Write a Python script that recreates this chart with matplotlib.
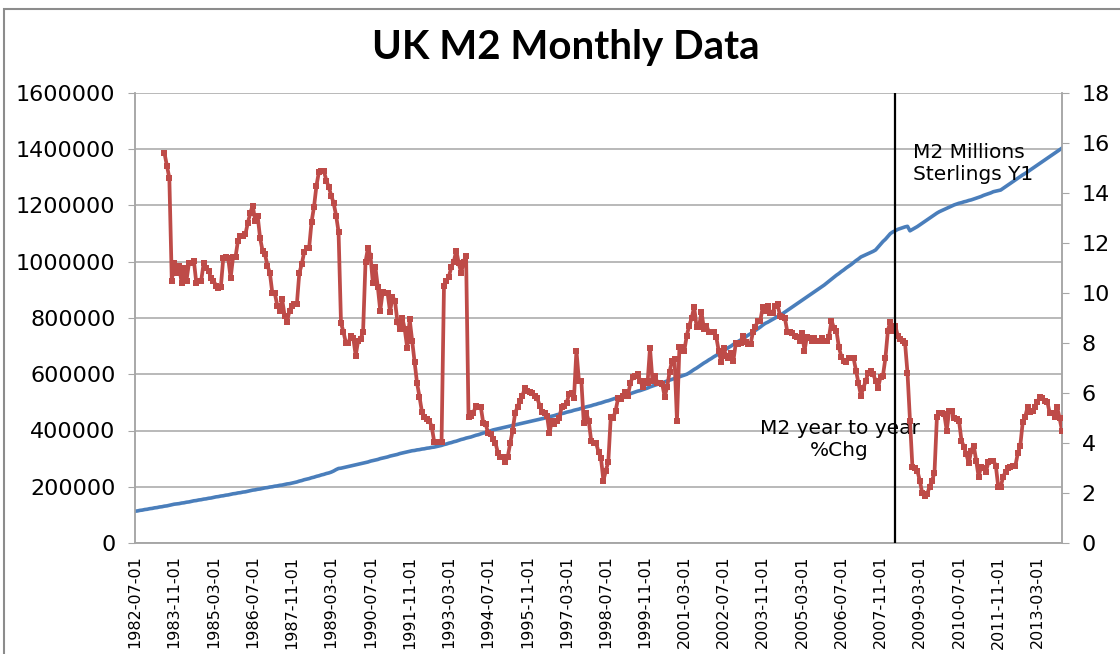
import matplotlib
matplotlib.use("Agg")
import matplotlib.pyplot as plt
from matplotlib.patches import Rectangle
import numpy as np
import pandas as pd

# Monthly index, July 1982 .. January 2014
months = pd.date_range("1982-07-01", periods=379, freq="MS").strftime("%Y-%m-%d").tolist()

# M2 stock, thousands of millions of sterling
m2_1982 = [113, 114, 116, 117, 119, 120]
m2_1983 = [122, 123, 125, 126, 128, 129, 131, 132, 134, 136, 138, 139]
m2_1984 = [140, 142, 143, 145, 146, 148, 150, 151, 153, 154, 156, 157]
m2_1985 = [159, 160, 162, 164, 165, 167, 168, 170, 171, 173, 175, 176]
m2_1986 = [178, 179, 181, 182, 184, 186, 188, 189, 191, 192, 194, 196]
m2_1987 = [197, 199, 200, 202, 203, 205, 206, 208, 210, 211, 213, 215]
m2_1988 = [217, 220, 222, 225, 227, 229, 232, 234, 237, 239, 242, 244]
m2_1989 = [247, 249, 252, 256, 261, 265, 266, 268, 270, 272, 274, 276]
m2_1990 = [278, 280, 282, 284, 286, 288, 291, 293, 295, 297, 300, 302]
m2_1991 = [304, 306, 309, 311, 313, 315, 318, 320, 322, 324, 326, 328]
m2_1992 = [329, 331, 332, 334, 335, 337, 338, 340, 341, 343, 345, 347]
m2_1993 = [350, 352, 355, 357, 360, 362, 365, 368, 370, 373, 375, 377]
m2_1994 = [380, 383, 385, 388, 391, 393, 396, 399, 402, 404, 406, 408]
m2_1995 = [410, 412, 414, 416, 418, 420, 422, 424, 426, 428, 430, 432]
m2_1996 = [434, 436, 438, 440, 442, 444, 447, 449, 451, 453, 456, 458]
m2_1997 = [460, 462, 465, 467, 469, 472, 474, 476, 479, 481, 484, 486]
m2_1998 = [488, 491, 493, 496, 498, 501, 504, 506, 509, 512, 515, 517]
m2_1999 = [520, 523, 526, 528, 531, 534, 537, 540, 542, 545, 548, 551]
m2_2000 = [555, 558, 561, 564, 567, 570, 573, 576, 579, 582, 585, 588]
m2_2001 = [591, 594, 597, 600, 605, 611, 617, 622, 628, 634, 640, 645]
m2_2002 = [651, 656, 662, 667, 673, 678, 684, 689, 695, 700, 706, 711]
m2_2003 = [717, 722, 728, 733, 739, 744, 750, 756, 762, 768, 775, 781]
m2_2004 = [785, 790, 795, 800, 805, 810, 815, 821, 827, 833, 839, 845]
m2_2005 = [851, 857, 863, 869, 875, 881, 887, 893, 899, 905, 911, 917]
m2_2006 = [924, 931, 938, 945, 952, 958, 965, 971, 978, 984, 990, 997]
m2_2007 = [1004, 1010, 1017, 1021, 1025, 1029, 1033, 1037, 1042, 1052, 1062, 1072]
m2_2008 = [1080, 1090, 1100, 1106, 1110, 1115, 1118, 1121, 1124, 1126, 1110, 1115]
m2_2009 = [1120, 1125, 1131, 1137, 1143, 1149, 1155, 1161, 1167, 1173, 1178, 1182]
m2_2010 = [1186, 1190, 1194, 1198, 1202, 1205, 1208, 1210, 1213, 1215, 1218, 1220]
m2_2011 = [1223, 1226, 1229, 1232, 1236, 1239, 1242, 1245, 1249, 1251, 1253, 1255]
m2_2012 = [1261, 1267, 1273, 1279, 1285, 1291, 1297, 1303, 1309, 1314, 1320, 1326]
m2_2013 = [1332, 1338, 1344, 1350, 1356, 1362, 1368, 1374, 1380, 1386, 1392, 1398]
m2_2014 = [1404]

# Year-on-year % change, starts July 1983
chg_1983 = [15.6, 15.1, 14.6, 10.5, 11.2, 10.8]
chg_1984 = [11.1, 10.4, 11.0, 10.5, 11.2, 11.2, 11.3, 10.4, 10.5, 10.5, 11.2, 11.0]
chg_1985 = [10.9, 10.6, 10.5, 10.3, 10.2, 10.25, 11.4, 11.45, 11.4, 10.6, 11.45, 11.45]
chg_1986 = [12.1, 12.3, 12.3, 12.35, 12.8, 13.2, 13.5, 12.9, 13.1, 12.2, 11.7, 11.55]
chg_1987 = [11.1, 10.8, 10.0, 10.0, 9.5, 9.3, 9.75, 9.1, 8.85, 9.3, 9.5, 9.55]
chg_1988 = [9.55, 10.8, 11.15, 11.65, 11.8, 11.8, 12.85, 13.45, 14.3, 14.85, 14.9, 14.9]
chg_1989 = [14.5, 14.25, 13.9, 13.6, 13.1, 12.45, 8.8, 8.45, 8.0, 8.0, 8.3, 8.2]
chg_1990 = [7.5, 8.1, 8.15, 8.45, 11.25, 11.8, 11.5, 10.4, 11.05, 10.25, 9.3, 10.05]
chg_1991 = [10.0, 10.0, 9.25, 9.85, 9.7, 8.85, 8.55, 9.0, 8.55, 7.8, 8.95, 8.1]
chg_1992 = [7.25, 6.4, 5.85, 5.25, 5.05, 4.95, 4.9, 4.65, 4.05, 4.05, 4.05, 4.05]
chg_1993 = [10.3, 10.5, 10.65, 11.05, 11.25, 11.7, 11.2, 10.8, 11.25, 11.5, 5.05, 5.1]
chg_1994 = [5.2, 5.5, 5.45, 5.45, 4.8, 4.75, 4.4, 4.35, 4.15, 4.0, 3.6, 3.45]
chg_1995 = [3.45, 3.25, 3.45, 4.0, 4.5, 5.2, 5.45, 5.7, 5.9, 6.2, 6.1, 6.05]
chg_1996 = [6.0, 5.9, 5.8, 5.5, 5.25, 5.2, 5.1, 4.4, 4.9, 4.75, 4.9, 5.0]
chg_1997 = [5.45, 5.5, 5.6, 5.95, 6.0, 5.8, 7.7, 6.5, 6.5, 4.8, 5.2, 4.9]
chg_1998 = [4.1, 4.0, 4.0, 3.65, 3.4, 2.5, 2.9, 3.25, 5.05, 5.0, 5.3, 5.8]
chg_1999 = [5.75, 5.9, 6.05, 5.9, 6.4, 6.65, 6.7, 6.75, 6.5, 6.25, 6.5, 6.4]
chg_2000 = [7.8, 6.5, 6.7, 6.4, 6.4, 6.35, 5.85, 6.25, 6.85, 7.3, 7.35, 4.9]
chg_2001 = [7.85, 7.85, 7.7, 8.3, 8.7, 9.0, 9.45, 8.65, 8.65, 9.25, 8.55, 8.7]
chg_2002 = [8.45, 8.45, 8.45, 8.25, 7.7, 7.25, 7.8, 7.5, 7.4, 7.6, 7.3, 8.0]
chg_2003 = [7.95, 8.0, 8.3, 8.05, 7.95, 7.95, 8.45, 8.65, 8.9, 8.9, 9.45, 9.3]
chg_2004 = [9.5, 9.2, 9.2, 9.5, 9.55, 9.1, 9.05, 9.0, 8.45, 8.45, 8.4, 8.3]
chg_2005 = [8.25, 8.1, 8.4, 7.7, 8.25, 8.2, 8.1, 8.2, 8.1, 8.1, 8.2, 8.1]
chg_2006 = [8.1, 8.25, 8.9, 8.6, 8.5, 7.85, 7.45, 7.3, 7.25, 7.4, 7.4, 7.4]
chg_2007 = [6.9, 6.4, 5.9, 6.2, 6.5, 6.8, 6.9, 6.75, 6.5, 6.2, 6.65, 6.7]
chg_2008 = [7.4, 8.5, 8.85, 8.5, 8.7, 8.3, 8.15, 8.1, 8.0, 6.8, 4.9, 3.05]
chg_2009 = [3.0, 2.9, 2.5, 2.0, 1.9, 1.95, 2.25, 2.5, 2.8, 5.05, 5.2, 5.2]
chg_2010 = [5.15, 4.5, 5.3, 5.3, 5.0, 4.95, 4.9, 4.1, 3.85, 3.55, 3.2, 3.7]
chg_2011 = [3.9, 3.3, 2.65, 3.05, 3.0, 2.85, 3.25, 3.3, 3.3, 3.1, 2.25, 2.25]
chg_2012 = [2.65, 2.85, 3.0, 3.05, 3.1, 3.1, 3.6, 3.9, 4.85, 5.05, 5.45, 5.25]
chg_2013 = [5.3, 5.45, 5.65, 5.85, 5.8, 5.7, 5.65, 5.2, 5.2, 5.05, 5.45, 5.0]
chg_2014 = [4.5]

marker_month = "2008-05-01"  # vertical line

m2 = np.concatenate([m2_1982, m2_1983, m2_1984, m2_1985, m2_1986, m2_1987, m2_1988,
                     m2_1989, m2_1990, m2_1991, m2_1992, m2_1993, m2_1994, m2_1995,
                     m2_1996, m2_1997, m2_1998, m2_1999, m2_2000, m2_2001, m2_2002,
                     m2_2003, m2_2004, m2_2005, m2_2006, m2_2007, m2_2008, m2_2009,
                     m2_2010, m2_2011, m2_2012, m2_2013, m2_2014]) * 1000
chg = np.concatenate([chg_1983, chg_1984, chg_1985, chg_1986, chg_1987, chg_1988,
                      chg_1989, chg_1990, chg_1991, chg_1992, chg_1993, chg_1994,
                      chg_1995, chg_1996, chg_1997, chg_1998, chg_1999, chg_2000,
                      chg_2001, chg_2002, chg_2003, chg_2004, chg_2005, chg_2006,
                      chg_2007, chg_2008, chg_2009, chg_2010, chg_2011, chg_2012,
                      chg_2013, chg_2014])

x = np.arange(len(months))
x_chg = x[len(months) - len(chg):]

BLUE = "#4A7EBB"
RED = "#BE4B48"
GRID = "#A6A6A6"

fig = plt.figure(figsize=(11.2, 6.54), dpi=100)
ax = fig.add_axes([135 / 1120, 111 / 654, 927 / 1120, 450 / 654])
ax2 = ax.twinx()

ax.plot(x, m2, color=BLUE, linewidth=2.6, zorder=3)
ax2.plot(x_chg, chg, color=RED, linewidth=2.7, marker="s", markersize=4.2,
         markeredgewidth=0, zorder=3)
ax2.axvline(months.index(marker_month), color="black", linewidth=1.6, zorder=4)

ax.set_xlim(0, len(months) - 1)
ax.set_ylim(0, 1600000)
ax2.set_ylim(0, 18)
ax.set_yticks(np.arange(0, 1600001, 200000))
ax.set_yticklabels([str(v) for v in range(0, 1600001, 200000)])
ax2.set_yticks(np.arange(0, 19, 2))

ticks = x[::16]
ax.set_xticks(ticks)
ax.set_xticklabels([months[i] for i in ticks], rotation=90)

ax.grid(axis="y", color=GRID, linewidth=1.1)
ax.set_axisbelow(True)
for a in (ax, ax2):
    a.spines["top"].set_visible(False)
    for s in ("left", "right", "bottom"):
        a.spines[s].set_color(GRID)
        a.spines[s].set_linewidth(1.1)
ax.tick_params(axis="y", labelsize=16, length=5, color=GRID, pad=9)
ax2.tick_params(axis="y", labelsize=16, length=5, color=GRID, pad=9)
ax.tick_params(axis="x", labelsize=11.5, length=0, pad=9)

# title is centred on the whole chart box, not on the plot area
fig.text(566 / 1120, 1 - 48 / 654, "UK M2 Monthly Data", fontsize=29,
         fontweight="bold", family="Lato", ha="center", va="center")

ax.text(0.839, 0.888, "M2 Millions\nSterlings Y1", transform=ax.transAxes,
        fontsize=14.5, ha="left", va="top", linespacing=1.2, zorder=5)
ax.text(0.760, 0.275, "M2 year to year\n%Chg", transform=ax.transAxes,
        fontsize=14.5, ha="center", va="top", linespacing=1.2, zorder=5)

fig.patches.append(Rectangle((4 / 1120, -0.1), 1.2, 1.1 - 9 / 654,
                             transform=fig.transFigure, fill=False,
                             edgecolor="#8C8C8C", linewidth=1.5))

fig.savefig("out.png", dpi=100)
